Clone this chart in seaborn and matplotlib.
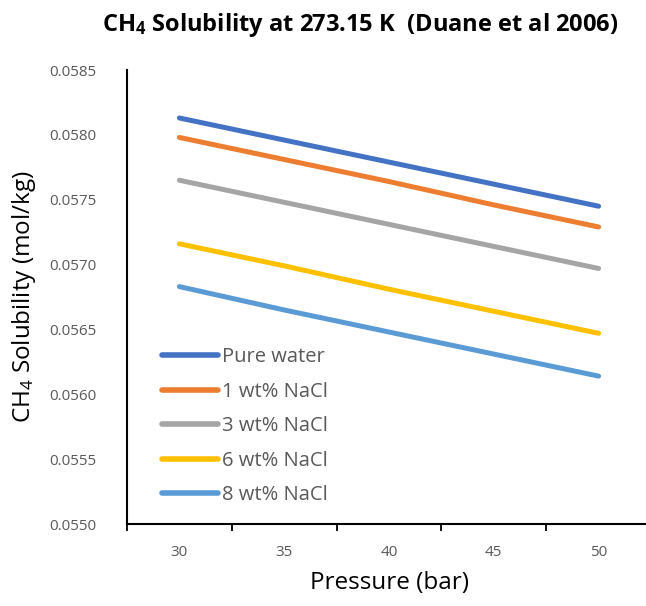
import matplotlib
matplotlib.use("Agg")
import matplotlib.pyplot as plt
import seaborn as sns
import pandas as pd
from matplotlib.ticker import FixedLocator, NullFormatter

pressure = ["30", "35", "40", "45", "50"]
series_names = ["Pure water", "1 wt% NaCl", "3 wt% NaCl", "6 wt% NaCl", "8 wt% NaCl"]
pure_water = [0.05813, 0.05796, 0.05779, 0.05762, 0.05745]
nacl_1 = [0.05798, 0.05781, 0.05764, 0.05746, 0.05729]
nacl_3 = [0.05765, 0.05748, 0.05731, 0.05714, 0.05697]
nacl_6 = [0.05716, 0.05699, 0.05681, 0.05664, 0.05647]
nacl_8 = [0.05683, 0.05665, 0.05648, 0.05631, 0.05614]
y_ticks = [0.0550, 0.0555, 0.0560, 0.0565, 0.0570, 0.0575, 0.0580, 0.0585]

colors = ["#4472C4", "#ED7D31", "#A5A5A5", "#FFC000", "#5B9BD5"]

rows = []
for name, vals in zip(series_names, [pure_water, nacl_1, nacl_3, nacl_6, nacl_8]):
    for p, v in zip(pressure, vals):
        rows.append({"Pressure": p, "Solubility": v, "Series": name})
df = pd.DataFrame(rows)

sns.set_theme(style="white")
plt.rcParams["font.family"] = ["Open Sans", "DejaVu Sans"]
plt.rcParams["mathtext.fontset"] = "custom"
plt.rcParams["mathtext.rm"] = "Open Sans"
plt.rcParams["mathtext.it"] = "Open Sans"
plt.rcParams["mathtext.bf"] = "Open Sans:bold"

fig = plt.figure(figsize=(6.46, 6.06), dpi=100)
W, H = 646, 606
ax = fig.add_axes([127 / W, (H - 524) / H, 524 / W, 454 / H])

sns.lineplot(data=df, x="Pressure", y="Solubility", hue="Series",
             palette=colors, hue_order=series_names, linewidth=3.6,
             ax=ax, sort=False, legend=True)
for ln in ax.lines:
    ln.set_solid_capstyle("round")

ax.set_xlim(-0.5, 4.5)
ax.set_ylim(0.0550, 0.0585)
ax.set_yticks(y_ticks)
ax.set_yticklabels([f"{t:.4f}" for t in y_ticks])
ax.set_xticks(range(len(pressure)))
ax.set_xticklabels(pressure)
ax.xaxis.set_minor_locator(FixedLocator([i - 0.5 for i in range(len(pressure) + 1)]))
ax.xaxis.set_minor_formatter(NullFormatter())
ax.tick_params(axis="x", which="major", length=0, pad=15, labelsize=11, labelcolor="#595959")
ax.tick_params(axis="x", which="minor", length=5, width=1.3, color="black", direction="out", bottom=True)
ax.tick_params(axis="y", which="major", length=0, pad=22, labelsize=11, labelcolor="#595959")

for s in ["top", "right"]:
    ax.spines[s].set_visible(False)
for s in ["left", "bottom"]:
    ax.spines[s].set_color("black")
    ax.spines[s].set_linewidth(1.5)

ax.set_xlabel("Pressure (bar)", fontsize=17.5, color="black", labelpad=8)
ax.set_ylabel("CH$_4$ Solubility (mol/kg)", fontsize=17.5, color="black", labelpad=8)

fig.text(360 / W, 1 - 31 / H, "CH$_\\mathbf{4}$ Solubility at 273.15 K  (Duane et al 2006)",
         ha="center", va="baseline", fontsize=17, fontweight="bold", color="black")

handles, labels = ax.get_legend_handles_labels()
ax.legend(handles, labels, loc="upper left", bbox_to_anchor=(0.052, 0.4075),
          frameon=False, fontsize=14.5, labelcolor="#595959",
          handlelength=2.78, handletextpad=0.2, labelspacing=0.72,
          borderaxespad=0)
for lh in ax.get_legend().get_lines():
    lh.set_linewidth(4)
    lh.set_solid_capstyle("round")

fig.savefig("out.png", dpi=100)
